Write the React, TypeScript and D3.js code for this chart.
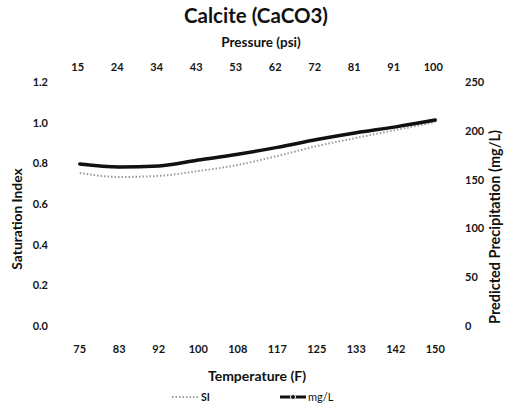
import React from "react";
import * as d3 from "d3";

const temperatures = ["75", "83", "92", "100", "108", "117", "125", "133", "142", "150"];
const pressures = ["15", "24", "34", "43", "53", "62", "72", "81", "91", "100"];
const siValues = [0.752, 0.733, 0.738, 0.762, 0.792, 0.836, 0.885, 0.925, 0.964, 1.003];
const mgValues = [166, 163, 164, 170, 176, 183, 191, 198, 204, 211];
const leftTicks = [0, 0.2, 0.4, 0.6, 0.8, 1.0, 1.2];
const rightTicks = [0, 50, 100, 150, 200, 250];

const W = 518;
const H = 408;
const font = "Lato, 'Open Sans', sans-serif";

export default function App() {
  const plotLeft = 60;
  const plotRight = 455;
  const plotTop = 82;
  const plotBottom = 326;

  const x = d3.scaleBand<string>().domain(temperatures).range([plotLeft, plotRight]);
  const xc = (i: number) => (x(temperatures[i]) as number) + x.bandwidth() / 2;
  const yL = d3.scaleLinear().domain([0, 1.2]).range([plotBottom, plotTop]);
  const yR = d3.scaleLinear().domain([0, 250]).range([plotBottom, plotTop]);

  const siLine = d3
    .line<number>()
    .x((_, i) => xc(i))
    .y((d) => yL(d))
    .curve(d3.curveMonotoneX);
  const mgLine = d3
    .line<number>()
    .x((_, i) => xc(i))
    .y((d) => yR(d))
    .curve(d3.curveMonotoneX);

  const tickStyle = { fontFamily: font, fontWeight: 700, fontSize: 11, fill: "#151515" } as const;

  return (
    <svg width={W} height={H} style={{ position: "absolute", left: 0, top: 0, background: "#fff" }}>
      <rect x={0} y={0} width={W} height={H} fill="#fff" />
      <text x={256} y={23} textAnchor="middle" fontFamily={font} fontWeight={700} fontSize={20.5} fill="#111">
        Calcite (CaCO3)
      </text>
      <text x={261} y={47} textAnchor="middle" fontFamily={font} fontWeight={700} fontSize={13.5} fill="#111">
        Pressure (psi)
      </text>
      {pressures.map((p, i) => (
        <text key={p} x={xc(i) - 2} y={71} textAnchor="middle" {...tickStyle}>
          {p}
        </text>
      ))}
      {leftTicks.map((t) => (
        <text key={t} x={48} y={yL(t) + 4} textAnchor="end" {...tickStyle}>
          {t.toFixed(1)}
        </text>
      ))}
      {rightTicks.map((t) => (
        <text key={t} x={465} y={yR(t) + 4} textAnchor="start" {...tickStyle}>
          {t}
        </text>
      ))}
      {temperatures.map((t, i) => (
        <text key={t} x={xc(i)} y={353} textAnchor="middle" {...tickStyle}>
          {t}
        </text>
      ))}
      <text x={257} y={381} textAnchor="middle" fontFamily={font} fontWeight={700} fontSize={14} fill="#111">
        Temperature (F)
      </text>
      <text
        transform={`translate(22,219) rotate(-90)`}
        textAnchor="middle"
        fontFamily={font}
        fontWeight={700}
        fontSize={13.8}
        fill="#111"
      >
        Saturation Index
      </text>
      <text
        transform={`translate(500,227) rotate(-90)`}
        textAnchor="middle"
        fontFamily={font}
        fontWeight={700}
        fontSize={14.5}
        fill="#111"
      >
        Predicted Precipitation (mg/L)
      </text>

      <path d={siLine(siValues) || ""} fill="none" stroke="#9a9a9a" strokeWidth={2} strokeDasharray="1.5,2" />
      <path d={mgLine(mgValues) || ""} fill="none" stroke="#111" strokeWidth={3.5} strokeLinecap="round" />

      {/* legend */}
      <line x1={172} x2={199} y1={397} y2={397} stroke="#9a9a9a" strokeWidth={2} strokeDasharray="1.5,2" />
      <text x={201} y={401} fontFamily={font} fontWeight={700} fontSize={10.5} fill="#111">
        SI
      </text>
      <line x1={280} x2={306} y1={397} y2={397} stroke="#111" strokeWidth={3} />
      <circle cx={293} cy={397} r={2.5} fill="#111" stroke="#fff" strokeWidth={1} />
      <text x={308} y={401} fontFamily={font} fontWeight={400} fontSize={11} fill="#111">
        mg/L
      </text>
    </svg>
  );
}
